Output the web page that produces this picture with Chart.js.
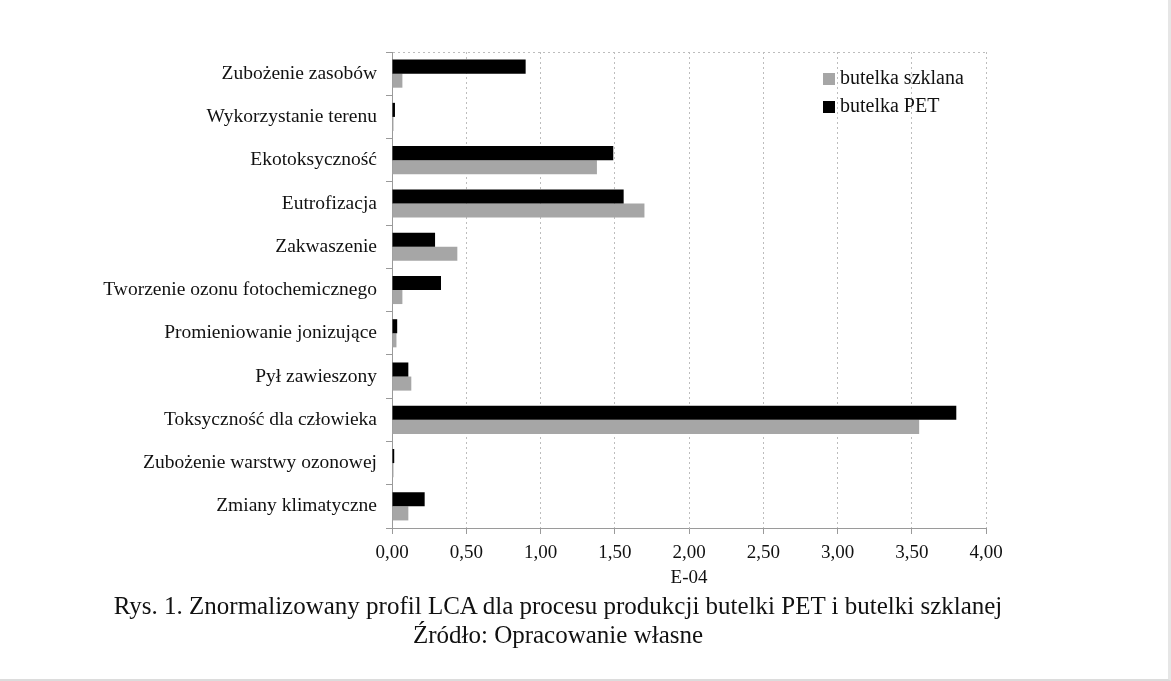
<!DOCTYPE html>
<html>
<head>
<meta charset="utf-8">
<script src="https://cdn.jsdelivr.net/npm/chart.js@4"></script>
<style>
  html, body { margin: 0; padding: 0; background: #fff; }
  #page {
    position: relative; width: 1168px; height: 679px; overflow: hidden;
    border-right: 3px solid #e6e6e6; border-bottom: 2px solid #dcdcdc;
    font-family: "Liberation Serif", "DejaVu Serif", serif; color: #111;
  }
  #chart-box { position: absolute; left: 0; top: 0; width: 1171px; height: 600px; }
  #legend { position: absolute; left: 823px; top: 63px; font-size: 20px; }
  .legend-item { height: 28px; line-height: 28px; white-space: nowrap; }
  .legend-item span.box { display: inline-block; width: 12px; height: 12px; margin-right: 5px; vertical-align: -1px; }
  .caption { position: absolute; left: 0; width: 1116px; text-align: center; font-size: 25px; white-space: nowrap; }
</style>
</head>
<body>
<div id="page">
  <div id="chart-box"><canvas id="chart" width="1171" height="600"></canvas></div>
  <div id="legend"></div>
  <div class="caption" style="top: 592px;">Rys. 1. Znormalizowany profil LCA dla procesu produkcji butelki PET i butelki szklanej</div>
  <div class="caption" style="top: 621px;">Źródło: Opracowanie własne</div>
</div>
<script>
const categories = [
  'Zubożenie zasobów',
  'Wykorzystanie terenu',
  'Ekotoksyczność',
  'Eutrofizacja',
  'Zakwaszenie',
  'Tworzenie ozonu fotochemicznego',
  'Promieniowanie jonizujące',
  'Pył zawieszony',
  'Toksyczność dla człowieka',
  'Zubożenie warstwy ozonowej',
  'Zmiany klimatyczne'
];
// values in E-04
const petValues   = [0.90, 0.02, 1.49, 1.56, 0.29, 0.33, 0.035, 0.11, 3.80, 0.015, 0.22];
const glassValues = [0.07, 0.01, 1.38, 1.70, 0.44, 0.07, 0.03, 0.13, 3.55, 0.01, 0.11];
const tickLabels = ['0,00', '0,50', '1,00', '1,50', '2,00', '2,50', '3,00', '3,50', '4,00'];

const serif = '"Liberation Serif", "DejaVu Serif", serif';
const textColor = '#111111';

const ctx = document.getElementById('chart').getContext('2d');
const chart = new Chart(ctx, {
  type: 'bar',
  data: {
    labels: categories,
    datasets: [
      { label: 'butelka PET', data: petValues, backgroundColor: '#000000' },
      { label: 'butelka szklana', data: glassValues, backgroundColor: '#a6a6a6' }
    ]
  },
  options: {
    indexAxis: 'y',
    responsive: false,
    animation: false,
    devicePixelRatio: 1,
    layout: { padding: { top: 52, right: 185, left: 0, bottom: 0 } },
    datasets: { bar: { barPercentage: 1, categoryPercentage: 0.65 } },
    plugins: { legend: { display: false }, tooltip: { enabled: false } },
    scales: {
      x: {
        min: 0, max: 4,
        ticks: {
          stepSize: 0.5,
          padding: 8,
          color: textColor,
          font: { family: serif, size: 19 },
          callback: (v, i) => tickLabels[i]
        },
        grid: { color: '#bdbdbd', tickColor: '#9a9a9a', tickLength: 6 },
        border: { display: true, color: '#9a9a9a', dash: [2, 3] },
        title: {
          display: true, text: 'E-04', color: textColor,
          font: { family: serif, size: 19 }, padding: { top: 0, bottom: 11 }
        },
        afterFit: (scale) => { scale.height = 72; }
      },
      y: {
        ticks: { padding: 9, color: textColor, font: { family: serif, size: 19.5 }, autoSkip: false },
        grid: {
          offset: true,
          color: (c) => c.index === 0 ? '#bdbdbd' : 'rgba(0,0,0,0)',
          tickColor: '#9a9a9a',
          tickLength: 6
        },
        border: { display: true, color: '#9a9a9a', dash: [2, 3] },
        afterFit: (scale) => { scale.width = 392; }
      }
    }
  }
});

// legend inside the plot, in the original's order (glass first)
const legendEl = document.getElementById('legend');
chart.data.datasets.slice().reverse().forEach(ds => {
  const item = document.createElement('div');
  item.className = 'legend-item';
  item.innerHTML = `<span class="box" style="background:${ds.backgroundColor}"></span>${ds.label}`;
  legendEl.appendChild(item);
});
</script>
</body>
</html>
